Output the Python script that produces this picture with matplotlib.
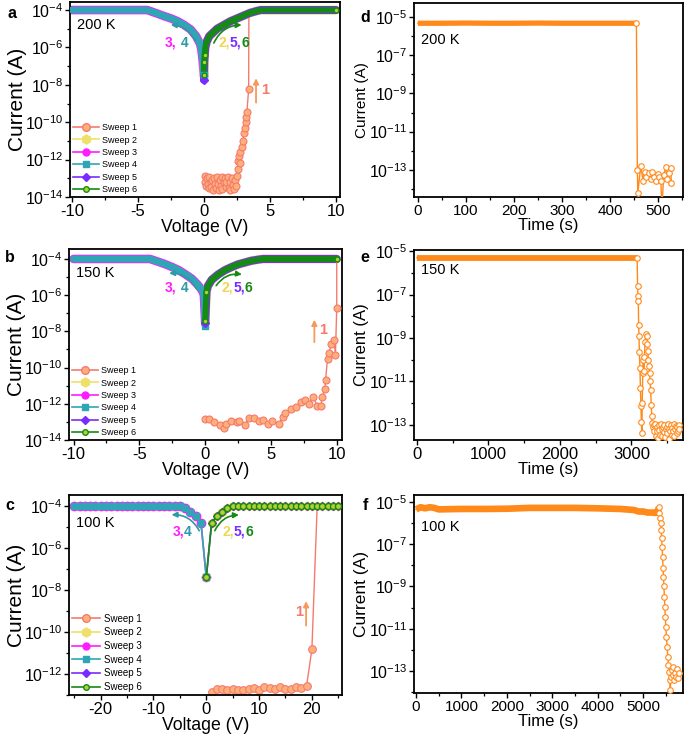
import numpy as np
import matplotlib
matplotlib.use("Agg")
import matplotlib.pyplot as plt
from matplotlib.lines import Line2D
from matplotlib.patches import FancyArrowPatch
from matplotlib.ticker import FixedLocator, FuncFormatter, MultipleLocator, NullFormatter

plt.rcParams['font.family'] = ['Liberation Sans', 'DejaVu Sans']
plt.rcParams['mathtext.fontset'] = 'custom'
plt.rcParams['mathtext.rm'] = 'Liberation Sans'
plt.rcParams['axes.unicode_minus'] = False

# ---------------- data (log10 of current in A) ----------------
# Panel a (200 K)
a_neg_V = [-10, -8, -6, -4.3, -3.5, -3.0, -2.5, -2.0, -1.5, -1.0, -0.6, -0.3, -0.2, -0.1, -0.05, 0]
a_s3_log = [-4.0, -4.0, -4.0, -4.0, -4.2, -4.33, -4.45, -4.6, -4.8, -5.05, -5.4, -5.8, -6.1, -6.7, -7.2, -7.55]
a_s4_log = [-4.0, -4.0, -4.0, -4.0, -4.2, -4.33, -4.45, -4.6, -4.8, -5.05, -5.4, -5.8, -6.1, -6.7, -7.2, -7.47]
a_pos_V = [0, 0.02, 0.05, 0.1, 0.2, 0.4, 0.7, 1.0, 1.5, 2.0, 2.5, 3.0, 3.5, 4.0, 4.3, 6, 8, 10]
a_s2_log = [-7.55, -6.8, -6.4, -6.0, -5.7, -5.4, -5.2, -5.0, -4.8, -4.6, -4.45, -4.3, -4.15, -4.05, -4.0, -4.0, -4.0, -4.0]
a_s5_log = [-7.74, -6.8, -6.4, -6.0, -5.7, -5.4, -5.2, -5.0, -4.8, -4.6, -4.45, -4.3, -4.15, -4.05, -4.0, -4.0, -4.0, -4.0]
a_s6_log = [-7.47, -6.76, -6.4, -6.0, -5.7, -5.4, -5.2, -5.0, -4.8, -4.6, -4.45, -4.3, -4.15, -4.05, -4.0, -4.0, -4.0, -4.0]
a_s1_V = [0.05, 0.1, 0.15, 0.2, 0.3, 0.35, 0.4, 0.5, 0.55, 0.6, 0.7, 0.75, 0.8, 0.9, 1.0, 1.05, 1.1,
          1.2, 1.3, 1.35, 1.4, 1.5, 1.6, 1.65, 1.7, 1.8, 1.9, 1.95, 2.0, 2.1, 2.2, 2.3, 2.35, 2.45,
          2.5, 2.55, 2.6, 2.65, 2.7, 2.75, 2.85, 2.95, 3.0, 3.1, 3.15, 3.2, 3.25, 3.38, 3.4, 10]
a_s1_log = [-12.9, -13.2, -13.4, -13.0, -13.3, -13.5, -12.95, -13.2, -13.45, -13.1, -13.6, -13.0, -13.3,
            -13.5, -12.95, -13.3, -13.6, -13.1, -13.4, -12.95, -13.55, -13.2, -13.0, -13.45, -13.2,
            -12.95, -13.5, -13.2, -13.6, -13.0, -13.35, -13.55, -13.1, -13.4, -12.9, -12.5, -12.1,
            -11.8, -11.6, -12.2, -11.3, -11.0, -10.6, -10.3, -10.0, -9.7, -9.45, -8.24, -4.0, -4.0]

# Panel b (150 K)
b_neg_V = [-10, -8, -6, -4.2, -3.5, -3.0, -2.5, -2.0, -1.5, -1.0, -0.6, -0.35, -0.2, -0.1, 0]
b_s3_log = [-4.0, -4.0, -4.0, -4.0, -4.17, -4.3, -4.45, -4.62, -4.85, -5.1, -5.4, -5.62, -5.8, -5.95, -7.5]
b_s4_log = [-4.0, -4.0, -4.0, -4.0, -4.17, -4.3, -4.45, -4.62, -4.85, -5.1, -5.4, -5.62, -5.8, -5.95, -7.7]
b_pos_V = [0, 0.1, 0.2, 0.5, 1.0, 1.5, 2.0, 2.5, 3.0, 3.5, 4.0, 4.4, 6, 8, 10]
b_s2_log = [-7.5, -5.8, -5.5, -5.15, -4.85, -4.62, -4.45, -4.3, -4.2, -4.1, -4.04, -4.0, -4.0, -4.0, -4.0]
b_s5_log = [-7.55, -5.8, -5.5, -5.15, -4.85, -4.62, -4.45, -4.3, -4.2, -4.1, -4.04, -4.0, -4.0, -4.0, -4.0]
b_s6_log = [-7.45, -5.8, -5.5, -5.15, -4.85, -4.62, -4.45, -4.3, -4.2, -4.1, -4.04, -4.0, -4.0, -4.0, -4.0]
b_s1_V = [0.0, 0.3, 0.7, 1.1, 1.4, 1.6, 2.0, 2.4, 2.6, 3.0, 3.3, 3.7, 4.1, 4.4, 4.8, 5.1, 5.6, 5.9,
          6.1, 6.5, 6.9, 7.3, 7.6, 7.9, 8.2, 8.5, 8.8, 8.9, 9.1, 9.15, 9.3, 9.4, 9.6, 9.8, 9.9, 10.0, 10.0]
b_s1_log = [-12.86, -12.86, -12.99, -13.17, -13.35, -13.1, -12.95, -13.0, -12.95, -13.17, -12.8, -12.77,
            -12.95, -12.9, -13.1, -12.95, -13.1, -12.75, -12.5, -12.3, -12.2, -11.9, -11.8, -12.0,
            -11.6, -12.1, -12.1, -11.6, -11.2, -10.7, -9.5, -9.2, -8.7, -8.5, -9.3, -6.7, -4.0]

# Panel c (100 K)
c_neg_V = [-25, -24, -23, -22, -21, -20, -19, -18, -17, -16, -15, -14, -13, -12, -11, -10, -9, -8, -7,
           -6, -5, -4, -3, -2, -1, 0]
c_s34_log = [-4.0, -4.0, -4.0, -4.0, -4.0, -4.0, -4.0, -4.0, -4.0, -4.0, -4.0, -4.0, -4.0, -4.0, -4.0,
             -4.0, -4.0, -4.0, -4.0, -4.0, -4.0, -4.11, -4.3, -4.48, -4.82, -7.4]
c_pos_V = [0, 1, 2, 3, 4, 5, 6, 7, 8, 9, 10, 11, 12, 13, 14, 15, 16, 17, 18, 19, 20, 21, 22, 23, 24, 25]
c_s256_log = [-7.4, -4.82, -4.48, -4.3, -4.11, -4.0, -4.0, -4.0, -4.0, -4.0, -4.0, -4.0, -4.0, -4.0,
              -4.0, -4.0, -4.0, -4.0, -4.0, -4.0, -4.0, -4.0, -4.0, -4.0, -4.0, -4.0]
c_s1_V = [1, 2, 3, 4, 5, 6, 7, 8, 9, 10, 11, 12, 13, 14, 15, 16, 17, 18, 19, 20, 21, 22, 23, 24, 25]
c_s1_log = [-12.85, -12.72, -12.7, -12.78, -12.72, -12.74, -12.76, -12.7, -12.68, -12.74, -12.64, -12.66,
            -12.72, -12.62, -12.7, -12.72, -12.6, -12.66, -12.55, -10.82, -4.0, -4.0, -4.0, -4.0, -4.0]

# Panel d (200 K, time)
d_t = [0, 50, 100, 150, 200, 250, 300, 350, 400, 455, 457, 458, 464, 469, 472, 476, 481, 485, 488, 492,
       495, 499, 501, 506, 508, 512, 516, 519, 522, 526, 528]
d_log = [-5.33, -5.33, -5.32, -5.33, -5.33, -5.32, -5.33, -5.33, -5.33, -5.33, -13.0, -14.2, -12.8,
         -13.6, -13.1, -13.35, -13.15, -13.5, -13.1, -13.35, -13.6, -13.2, -13.35, -13.6, -15.0,
         -13.25, -12.85, -13.5, -13.15, -12.9, -13.7]

# Panel e (150 K, time)
e_t = [0, 500, 1000, 1500, 2000, 2500, 3000, 3079, 3085, 3090, 3095, 3100, 3105, 3110, 3118, 3125,
       3132, 3138, 3145, 3150, 3158, 3165, 3172, 3180, 3190, 3200, 3210, 3220, 3228, 3236, 3244,
       3252, 3260, 3268, 3276, 3284, 3292, 3300, 3310, 3320, 3330, 3340, 3350, 3360, 3370, 3380,
       3390, 3400, 3410, 3420, 3430, 3440, 3450, 3460, 3470, 3480, 3490, 3500, 3510, 3520, 3530,
       3540, 3550, 3560, 3570, 3580, 3590, 3600, 3610, 3620, 3630, 3640, 3650, 3660, 3670]
e_log = [-5.3, -5.3, -5.3, -5.3, -5.3, -5.3, -5.3, -5.3, -6.6, -7.05, -7.3, -8.4, -8.9, -9.65, -10.4,
         -11.3, -12.15, -12.85, -13.4, -12.0, -10.6, -10.0, -10.5, -9.9, -9.2, -8.8, -8.9, -9.3, -9.6,
         -10.0, -10.3, -10.6, -11.0, -11.4, -12.1, -12.6, -12.9, -13.1, -13.0, -13.3, -12.95, -13.5,
         -13.1, -13.3, -13.6, -13.0, -13.25, -13.45, -12.95, -13.2, -13.5, -13.1, -13.35, -13.0,
         -13.55, -13.2, -13.1, -13.4, -12.95, -13.65, -13.2, -13.3, -13.0, -13.45, -13.15, -13.3,
         -12.95, -13.5, -13.2, -13.05, -13.4, -13.1, -13.3, -13.0, -13.2]

# Panel f (100 K, time)
f_t = [0, 100, 200, 300, 400, 500, 1000, 1500, 2000, 2500, 3000, 3500, 4000, 4500, 4800, 4900, 5000,
       5100, 5200, 5280, 5320, 5350, 5360, 5375, 5390, 5400, 5410, 5420, 5430, 5440, 5450, 5460,
       5470, 5480, 5490, 5500, 5515, 5530, 5545, 5560, 5575, 5590, 5600, 5615, 5630, 5650, 5670,
       5690, 5710, 5730, 5750, 5770, 5790]
f_log = [-5.35, -5.25, -5.3, -5.25, -5.28, -5.35, -5.33, -5.33, -5.32, -5.28, -5.28, -5.28, -5.3, -5.33,
         -5.38, -5.45, -5.45, -5.5, -5.5, -5.52, -5.45, -5.25, -5.54, -5.77, -6.0, -6.32, -6.72, -7.11,
         -7.59, -8.14, -8.53, -9.0, -9.48, -9.95, -10.43, -10.9, -11.37, -11.85, -12.32, -12.71,
         -13.03, -13.42, -13.9, -13.26, -12.95, -13.19, -12.79, -13.42, -13.1, -13.3, -12.9, -13.35,
         -13.1]

# ---------------- styles ----------------
C1_LINE, C1_FACE = '#f47a6e', '#ffb07a'
C2 = '#efe06a'
C3 = '#ff1cff'
C4 = '#2ea6b6'
C5 = '#7a2cff'
C6, C6_FACE = '#158a15', '#b6d030'
ORANGE = '#ff8a1a'

def P(v):
    return 10.0 ** np.asarray(v, dtype=float)

fig = plt.figure(figsize=(6.85, 7.37), dpi=100)
W, H = 685.0, 737.0

def add_ax(l, t, r, b):
    return fig.add_axes([l / W, 1 - b / H, (r - l) / W, (b - t) / H])

ax_a = add_ax(70, 2, 340, 197)
ax_d = add_ax(414, 3, 683, 197)
ax_b = add_ax(69, 249, 342, 440)
ax_e = add_ax(414, 250, 683, 440)
ax_c = add_ax(69, 495, 342, 695)
ax_f = add_ax(414, 495, 683, 693)

def logfmt(v, _):
    e = int(round(np.log10(v)))
    return r'10$^{\mathregular{%d}}$' % e

def style(ax, ylim, ymaj, ymin, xmaj, xmin, xfs, yfs):
    ax.set_yscale('log')
    ax.set_ylim(ylim)
    ax.yaxis.set_major_locator(FixedLocator([10.0 ** e for e in ymaj]))
    ax.yaxis.set_minor_locator(FixedLocator([10.0 ** e for e in ymin]))
    ax.yaxis.set_major_formatter(FuncFormatter(logfmt))
    ax.yaxis.set_minor_formatter(NullFormatter())
    ax.xaxis.set_major_locator(MultipleLocator(xmaj))
    ax.xaxis.set_minor_locator(MultipleLocator(xmin))
    ax.tick_params(which='major', direction='out', length=3.5, width=1.0, pad=1.5)
    ax.tick_params(which='minor', direction='out', length=2, width=0.9)
    ax.tick_params(axis='x', labelsize=xfs)
    ax.tick_params(axis='y', labelsize=yfs)
    for s in ax.spines.values():
        s.set_linewidth(1.3)

def band(ax, V, logs, color, lw, z):
    ax.plot(V, P(logs), color=color, lw=lw, solid_capstyle='round', solid_joinstyle='round', zorder=z)

def legend(ax, fs, y0):
    handles = [
        Line2D([], [], color=C1_LINE, marker='o', mfc=C1_FACE, mec=C1_LINE, ms=5.5, lw=1.2),
        Line2D([], [], color=C2, marker='h', mfc=C2, mec=C2, ms=6.5, lw=1.2),
        Line2D([], [], color=C3, marker='o', mfc=C3, mec=C3, ms=5, lw=1.2),
        Line2D([], [], color=C4, marker='s', mfc=C4, mec=C4, ms=4.5, lw=1.2),
        Line2D([], [], color=C5, marker='D', mfc=C5, mec=C5, ms=4, lw=1.2),
        Line2D([], [], color=C6, marker='o', mfc=C6_FACE, mec=C6, ms=4, lw=1.2),
    ]
    labels = ['Sweep 1', 'Sweep 2', 'Sweep 3', 'Sweep 4', 'Sweep 5', 'Sweep 6']
    ax.legend(handles, labels, loc='lower left', bbox_to_anchor=(0.0, y0), frameon=False,
              fontsize=fs, handlelength=2.9, handletextpad=0.4, labelspacing=0.38,
              borderaxespad=0.2, borderpad=0.1)

def multicolor(ax, x, y, parts, colors, fs):
    t = ax.text(x, y, parts[0], color=colors[0], fontsize=fs, fontweight='bold',
                ha='left', va='center', zorder=6)
    for p, c in zip(parts[1:], colors[1:]):
        t = ax.annotate(p, xy=(1, 0), xycoords=t, color=c, fontsize=fs,
                        fontweight='bold', va='bottom', ha='left', zorder=6)

def curved_arrow(ax, p0, p1, color, rad):
    ax.add_patch(FancyArrowPatch(p0, p1, connectionstyle='arc3,rad=%s' % rad,
                                 arrowstyle='-|>', mutation_scale=8, lw=1.2, color=color, zorder=6))

def up_arrow(ax, x, y0, y1):
    ax.add_patch(FancyArrowPatch((x, y0), (x, y1), arrowstyle='-|>', mutation_scale=8,
                                 lw=1.3, color='#f59a5c', zorder=6))

LEFT_XFS, LEFT_YFS = 12, 11.5
YLAB_L, XLAB_L = 15, 12.7
TEAL_TXT = '#2e9aa5'
YELLOW_TXT = '#f0d656'

# ---------------- panel a ----------------
ax = ax_a
band(ax, a_neg_V, a_s3_log, C3, 6.2, 2)
band(ax, a_neg_V, a_s4_log, C4, 5.0, 3)
band(ax, a_pos_V, a_s2_log, C2, 6.4, 2)
band(ax, a_pos_V, a_s5_log, C5, 5.8, 2.5)
band(ax, a_pos_V, a_s6_log, C6, 4.4, 3)
ax.plot(a_neg_V[-1:], P(a_s4_log[-1:]), 's', color=C4, ms=4, zorder=4)
ax.plot(a_pos_V[:1], P(a_s5_log[:1]), 'D', color=C5, ms=4, zorder=4)
ax.plot(a_pos_V, P(a_s6_log), ls='none', marker='o', mfc=C6_FACE, mec=C6, ms=3.5,
        markevery=[0, 1, 2, len(a_pos_V) - 1], zorder=5)
ax.plot(a_s1_V, P(a_s1_log), color=C1_LINE, lw=1.0, marker='o', mfc=C1_FACE, mec=C1_LINE,
        ms=5, mew=0.8, markevery=list(range(len(a_s1_V) - 2)), zorder=1.5)
style(ax, (1e-14, 10 ** -3.57), [-4, -6, -8, -10, -12, -14], [-5, -7, -9, -11, -13], 5, 2.5,
      LEFT_XFS, LEFT_YFS)
ax.set_xlim(-10.15, 10.3)
ax.set_xlabel('Voltage (V)', fontsize=XLAB_L, labelpad=0)
ax.set_ylabel('Current (A)', fontsize=YLAB_L, labelpad=-1.5)
ax.text(0.025, 0.88, '200 K', transform=ax.transAxes, fontsize=10.5, va='center')
multicolor(ax, -2.95, 10 ** -5.75, ['3,', ' 4'], [C3, TEAL_TXT], 10)
multicolor(ax, 1.1, 10 ** -5.75, ['2,', '5,', '6'], [YELLOW_TXT, C5, C6], 10)
curved_arrow(ax, (-0.59, 10 ** -5.78), (-2.73, 10 ** -4.8), TEAL_TXT, 0.35)
curved_arrow(ax, (0.66, 10 ** -5.9), (3.06, 10 ** -4.8), C6, -0.35)
up_arrow(ax, 3.94, 10 ** -9.1, 10 ** -7.5)
ax.text(4.35, 10 ** -8.28, '1', color='#f47a6e', fontsize=10.5, fontweight='bold', va='center')
legend(ax, 6.5, 0.0)

# ---------------- panel b ----------------
ax = ax_b
band(ax, b_neg_V, b_s3_log, C3, 6.2, 2)
band(ax, b_neg_V, b_s4_log, C4, 5.0, 3)
band(ax, b_pos_V, b_s2_log, C2, 6.4, 2)
band(ax, b_pos_V, b_s5_log, C5, 5.8, 2.5)
band(ax, b_pos_V, b_s6_log, C6, 4.4, 3)
ax.plot(b_neg_V[-1:], P(b_s4_log[-1:]), 's', color=C4, ms=4, zorder=4)
ax.plot(b_pos_V[:1], P(b_s5_log[:1]), 'D', color=C5, ms=4, zorder=4)
ax.plot(b_pos_V, P(b_s6_log), ls='none', marker='o', mfc=C6_FACE, mec=C6, ms=3.5,
        markevery=[0, 1, len(b_pos_V) - 1], zorder=5)
ax.plot(b_s1_V, P(b_s1_log), color=C1_LINE, lw=1.0, marker='o', mfc=C1_FACE, mec=C1_LINE,
        ms=5, mew=0.8, markevery=list(range(len(b_s1_V) - 1)), zorder=4)
style(ax, (1e-14, 10 ** -3.45), [-4, -6, -8, -10, -12, -14], [-5, -7, -9, -11, -13], 5, 2.5,
      LEFT_XFS, LEFT_YFS)
ax.set_xlim(-10.35, 10.4)
ax.set_xlabel('Voltage (V)', fontsize=XLAB_L, labelpad=0)
ax.set_ylabel('Current (A)', fontsize=YLAB_L, labelpad=-1.5)
ax.text(0.026, 0.873, '150 K', transform=ax.transAxes, fontsize=10.5, va='center')
multicolor(ax, -3.05, 10 ** -5.6, ['3,', ' 4'], [C3, TEAL_TXT], 10)
multicolor(ax, 1.25, 10 ** -5.6, ['2,', '5,', '6'], [YELLOW_TXT, C5, C6], 10)
curved_arrow(ax, (-0.55, 10 ** -5.8), (-2.95, 10 ** -4.8), TEAL_TXT, 0.35)
curved_arrow(ax, (0.72, 10 ** -5.6), (3.0, 10 ** -4.88), C6, -0.35)
up_arrow(ax, 8.3, 10 ** -8.75, 10 ** -7.2)
ax.text(8.65, 10 ** -7.9, '1', color='#f47a6e', fontsize=10.5, fontweight='bold', va='center')
legend(ax, 6.5, 0.0)

# ---------------- panel c ----------------
ax = ax_c
ax.plot(c_neg_V, P(c_s34_log), color=C3, lw=1.2, marker='o', mfc=C3, mec=C3, ms=6, zorder=2)
ax.plot(c_neg_V, P(c_s34_log), color=C4, lw=1.2, marker='s', mfc=C4, mec=C4, ms=5, zorder=3)
ax.plot(c_pos_V, P(c_s256_log), color=C2, lw=1.2, marker='h', mfc=C2, mec=C2, ms=6.2, zorder=2)
ax.plot(c_pos_V, P(c_s256_log), color=C5, lw=1.2, marker='D', mfc=C5, mec=C5, ms=4.3, zorder=2.5)
ax.plot(c_pos_V, P(c_s256_log), color=C6, lw=1.2, marker='o', mfc=C6_FACE, mec=C6, ms=4.4,
        mew=1.0, zorder=3)
ax.plot(c_s1_V, P(c_s1_log), color=C1_LINE, lw=1.0, marker='o', mfc=C1_FACE, mec=C1_LINE,
        ms=5.5, mew=0.8, markevery=list(range(20)), zorder=1.5)
style(ax, (1e-13, 10 ** -3.48), [-4, -6, -8, -10, -12], [-5, -7, -9, -11, -13], 10, 5,
      LEFT_XFS, LEFT_YFS)
ax.set_xlim(-26, 25.7)
ax.set_xlabel('Voltage (V)', fontsize=XLAB_L, labelpad=0)
ax.set_ylabel('Current (A)', fontsize=YLAB_L, labelpad=-1.5)
ax.text(0.026, 0.86, '100 K', transform=ax.transAxes, fontsize=10.5, va='center')
multicolor(ax, -6.4, 10 ** -5.22, ['3,', '4'], [C3, TEAL_TXT], 10)
multicolor(ax, 3.0, 10 ** -5.22, ['2,', '5,', '6'], [YELLOW_TXT, C5, C6], 10)
curved_arrow(ax, (-1.1, 10 ** -5.3), (-7.1, 10 ** -4.43), TEAL_TXT, 0.35)
curved_arrow(ax, (1.4, 10 ** -5.3), (6.7, 10 ** -4.43), C6, -0.35)
up_arrow(ax, 18.9, 10 ** -9.83, 10 ** -8.4)
ax.text(16.9, 10 ** -9.03, '1', color='#f47a6e', fontsize=10.5, fontweight='bold', va='center')
legend(ax, 7, 0.0)

# ---------------- time panels ----------------
def time_panel(ax, t, lg, n_flat, band_lw, ylim, xmaj, xmin, xlim, label, ly, xfs, ylfs):
    ax.plot(t[:n_flat], P(lg[:n_flat]), color=ORANGE, lw=band_lw, solid_capstyle='butt', zorder=2)
    ax.plot(t, P(lg), color=ORANGE, lw=1.0, marker='o', mfc='white', mec=ORANGE, ms=4.0,
            mew=0.8, markevery=list(range(n_flat - 1, len(t))), zorder=3)
    style(ax, ylim, [-5, -7, -9, -11, -13], [-6, -8, -10, -12, -14], xmaj, xmin, xfs, 11.5)
    ax.set_xlim(xlim)
    ax.set_xlabel('Time (s)', fontsize=12, labelpad=0)
    ax.set_ylabel('Current (A)', fontsize=ylfs, labelpad=0)
    ax.text(0.026, ly, label, transform=ax.transAxes, fontsize=10.5, va='center')

time_panel(ax_d, d_t, d_log, 10, 3.8, (10 ** -14.42, 10 ** -4.27), 100, 50, (-8, 552), '200 K', 0.81, 11, 11)
time_panel(ax_e, e_t, e_log, 8, 4.2, (10 ** -13.7, 10 ** -4.95), 1000, 500, (-40, 3720), '150 K', 0.895, 12, 12)
time_panel(ax_f, f_t, f_log, 22, 4.8, (10 ** -14.04, 10 ** -4.67), 1000, 500, (-45, 5880), '100 K', 0.84, 11, 12.5)

# panel letters
for letter, x, y in [('a', 12, 14), ('d', 365, 17), ('b', 10, 257), ('e', 365, 257),
                     ('c', 10, 505), ('f', 365, 505)]:
    fig.text(x / W, 1 - y / H, letter, fontsize=11.5, fontweight='bold', ha='center', va='center')

fig.savefig('out.png', dpi=100)
